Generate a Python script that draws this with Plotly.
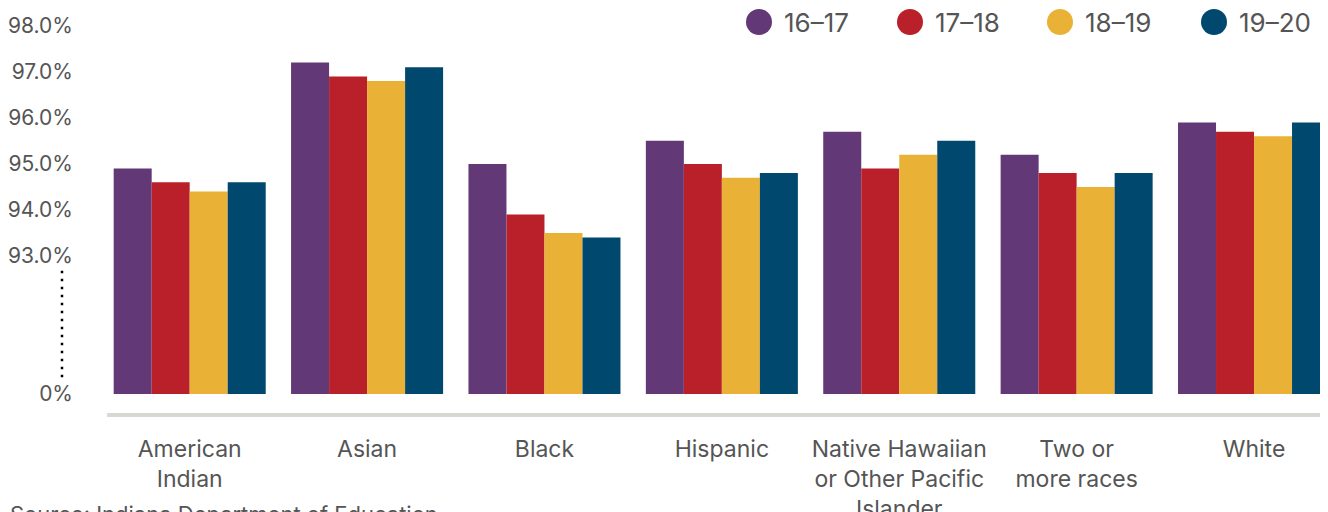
import plotly.graph_objects as go

categories = ["American<br>Indian", "Asian", "Black", "Hispanic",
              "Native Hawaiian<br>or Other Pacific<br>Islander", "Two or<br>more races", "White"]
series_names = ["16–17", "17–18", "18–19", "19–20"]
colors = ["#623877", "#BA2029", "#E9B237", "#01486F"]

v_16_17 = [94.9, 97.2, 95.0, 95.5, 95.7, 95.2, 95.9]
v_17_18 = [94.6, 96.9, 93.9, 95.0, 94.9, 94.8, 95.7]
v_18_19 = [94.4, 96.8, 93.5, 94.7, 95.2, 94.5, 95.6]
v_19_20 = [94.6, 97.1, 93.4, 94.8, 95.5, 94.8, 95.9]
series_values = [v_16_17, v_17_18, v_18_19, v_19_20]

tick_values = [0, 93.0, 94.0, 95.0, 96.0, 97.0, 98.0]
tick_labels = ["0%", "93.0%", "94.0%", "95.0%", "96.0%", "97.0%", "98.0%"]

# broken axis: values from 93% up are shown on a linear scale; the gap 0..90 is cut out
BREAK = 90.0


def to_axis(v):
    return v - BREAK if v > BREAK else v


FONT = "Inter"
TXT = "#555555"

# page geometry (the page body adds an 8px margin)
PLOT_L, PLOT_W, PLOT_T, PLOT_H = 101, 1227, 12, 405

fig = go.Figure()
for name, vals, col in zip(series_names, series_values, colors):
    fig.add_trace(go.Bar(
        x=categories, y=[to_axis(v) for v in vals], name=name,
        marker=dict(color=col, line=dict(width=0)),
        customdata=vals,
        hovertemplate="%{x}<br>" + name + ": %{customdata:.1f}%<extra></extra>",
        showlegend=False,
    ))

shapes = []
annotations = []
# baseline under the bars
shapes.append(dict(type="line", xref="paper", yref="y", x0=0.005, x1=1.0, y0=-0.47, y1=-0.47,
                   line=dict(color="#D8D8D3", width=5)))
# dotted break marker
shapes.append(dict(type="line", xref="paper", yref="y", x0=(62 - PLOT_L) / PLOT_W, x1=(62 - PLOT_L) / PLOT_W,
                   y0=2.68, y1=0.3,
                   line=dict(color="#000000", width=2.5, dash="2.5px,5.5px")))

# custom legend with large circles
legend_cx = [759, 910, 1060, 1214]
for name, col, cx in zip(series_names, colors, legend_cx):
    xp = (cx - PLOT_L) / PLOT_W
    shapes.append(dict(type="circle", xref="paper", yref="paper", xsizemode="pixel", ysizemode="pixel",
                       xanchor=xp, yanchor=1.0 + (PLOT_T - 22) / PLOT_H, x0=-13, x1=13, y0=-13, y1=13,
                       fillcolor=col, line=dict(width=0)))
    annotations.append(dict(xref="paper", yref="paper", x=(cx + 23 - PLOT_L) / PLOT_W,
                            y=1.0 + (PLOT_T - 23) / PLOT_H,
                            text=name, showarrow=False, xanchor="left", yanchor="middle",
                            font=dict(family=FONT, size=26, color=TXT)))

annotations.append(dict(xref="paper", yref="paper", x=(8 - PLOT_L) / PLOT_W, y=-(499 - 417) / PLOT_H,
                        text="Source: Indiana Department of Education", showarrow=False,
                        xanchor="left", yanchor="top", font=dict(family=FONT, size=22, color=TXT)))

fig.update_layout(
    width=1320, height=504,
    margin=dict(l=PLOT_L - 8, r=0, t=PLOT_T - 8, b=504 - (PLOT_T - 8) - PLOT_H),
    paper_bgcolor="white", plot_bgcolor="white",
    barmode="group", bargap=0.143, bargroupgap=0,
    font=dict(family=FONT, color=TXT),
    xaxis=dict(type="category", range=[-0.5, 6.417], showgrid=False, showline=False, zeroline=False,
               automargin=False,
               ticks="", tickfont=dict(family=FONT, size=23, color=TXT), ticklabelstandoff=16),
    yaxis=dict(range=[-0.5, 8.3], showgrid=False, showline=False, zeroline=False, ticks="",
               automargin=False,
               tickvals=[to_axis(t) for t in tick_values], ticktext=tick_labels,
               tickfont=dict(family=FONT, size=21, color=TXT), ticklabelstandoff=27),
    shapes=shapes, annotations=annotations, showlegend=False,
)

fig.write_html("out.html")
